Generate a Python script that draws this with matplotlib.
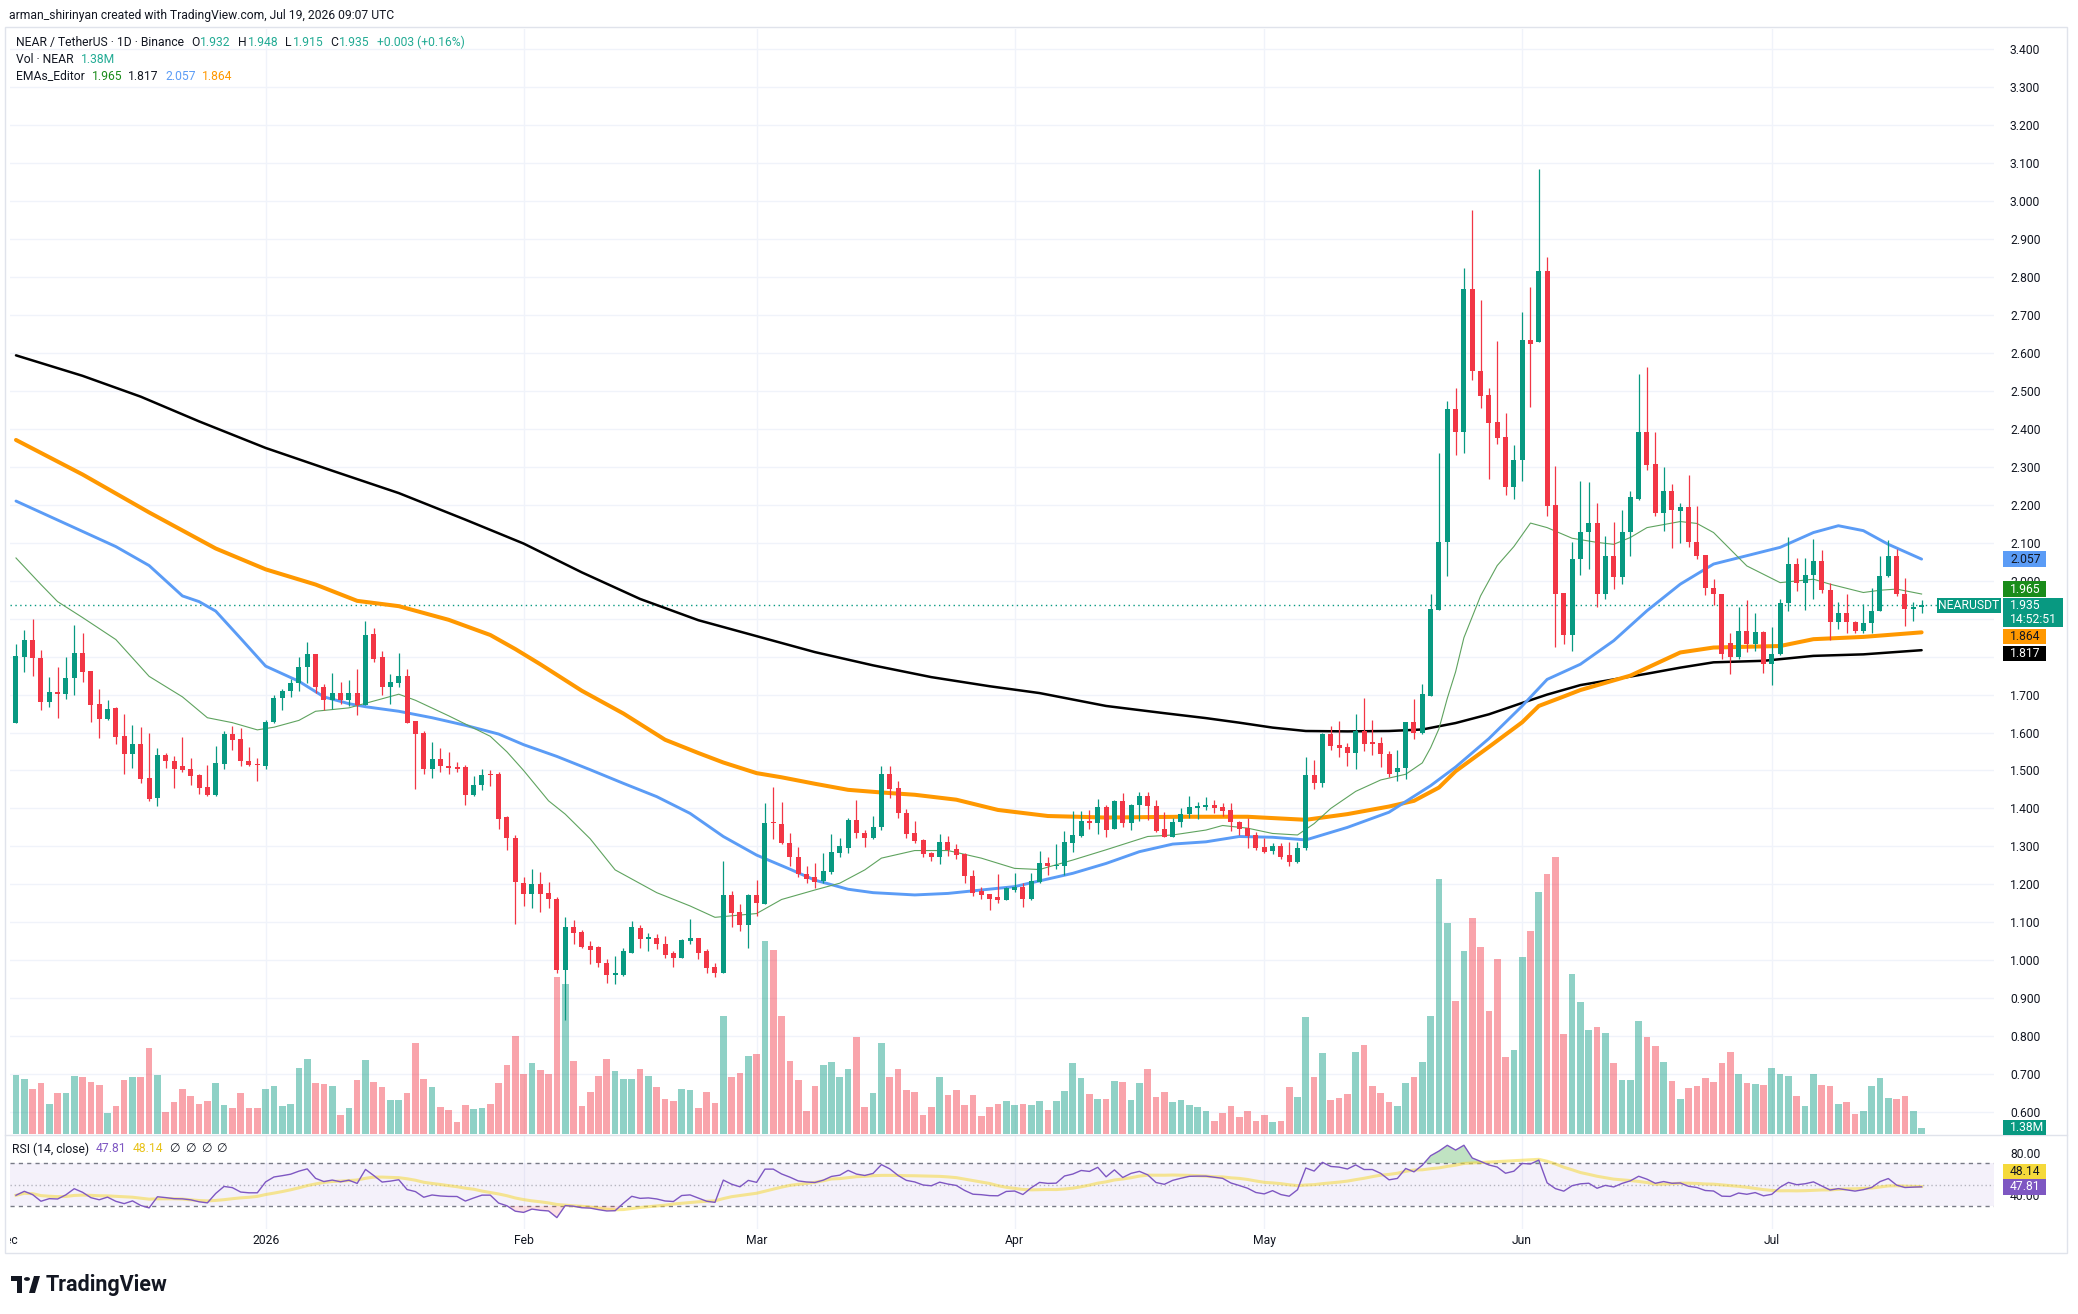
import datetime as dt

import matplotlib
matplotlib.use("Agg")
import matplotlib.pyplot as plt
import matplotlib.dates as mdates
import matplotlib.transforms as mtransforms
from matplotlib.patches import Rectangle, Circle, Polygon
from matplotlib.lines import Line2D
import numpy as np

plt.rcParams['font.family'] = ['Roboto', 'DejaVu Sans']

# ---- NEAR / USDT daily candles (2 Dec 2025 .. 19 Jul 2026) ----
start_date = dt.date(2025, 12, 2)

opens = [
    1.626, 1.800, 1.845, 1.797, 1.680, 1.707, 1.701, 1.743, 1.810, 1.762,
    1.674, 1.635, 1.664, 1.590, 1.543, 1.569, 1.481, 1.427, 1.540, 1.526,
    1.511, 1.505, 1.488, 1.456, 1.436, 1.517, 1.596, 1.582, 1.525, 1.516,
    1.511, 1.628, 1.692, 1.710, 1.730, 1.773, 1.807, 1.721, 1.685, 1.703,
    1.686, 1.703, 1.673, 1.859, 1.800, 1.719, 1.730, 1.750, 1.630, 1.599,
    1.504, 1.529, 1.513, 1.508, 1.508, 1.436, 1.463, 1.490, 1.490, 1.377,
    1.323, 1.204, 1.174, 1.201, 1.176, 1.160, 0.974, 1.087, 1.075, 1.037,
    1.034, 0.993, 0.961, 0.961, 1.020, 1.084, 1.056, 1.058, 1.044, 1.020,
    1.007, 1.051, 1.058, 1.024, 0.982, 0.965, 1.172, 1.128, 1.094, 1.172,
    1.148, 1.363, 1.358, 1.310, 1.271, 1.226, 1.218, 1.209, 1.233, 1.282,
    1.297, 1.370, 1.335, 1.323, 1.350, 1.490, 1.453, 1.387, 1.335, 1.317,
    1.282, 1.273, 1.311, 1.292, 1.280, 1.223, 1.183, 1.174, 1.167, 1.159,
    1.185, 1.194, 1.161, 1.207, 1.257, 1.247, 1.247, 1.308, 1.328, 1.367,
    1.361, 1.405, 1.346, 1.420, 1.361, 1.409, 1.434, 1.407, 1.346, 1.326,
    1.363, 1.385, 1.400, 1.405, 1.409, 1.405, 1.396, 1.365, 1.348, 1.330,
    1.299, 1.288, 1.302, 1.277, 1.260, 1.295, 1.487, 1.466, 1.597, 1.568,
    1.562, 1.546, 1.605, 1.575, 1.573, 1.543, 1.496, 1.506, 1.627, 1.600,
    1.697, 1.923, 2.102, 2.453, 2.392, 2.770, 2.552, 2.489, 2.419, 2.380,
    2.248, 2.318, 2.635, 2.629, 2.817, 2.200, 1.969, 1.857, 2.057, 2.129,
    2.152, 1.966, 2.066, 2.009, 2.129, 2.215, 2.393, 2.307, 2.178, 2.237,
    2.185, 2.195, 2.103, 2.068, 1.982, 1.966, 1.835, 1.800, 1.868, 1.833,
    1.865, 1.780, 1.807, 1.941, 2.044, 1.995, 2.015, 2.053, 1.975, 1.892,
    1.916, 1.892, 1.868, 1.889, 1.921, 2.013, 2.066, 1.965, 1.925, 1.932,
]
highs = [
    1.834, 1.870, 1.900, 1.818, 1.746, 1.773, 1.800, 1.884, 1.863, 1.762,
    1.716, 1.685, 1.668, 1.648, 1.619, 1.615, 1.600, 1.560, 1.546, 1.537,
    1.587, 1.533, 1.492, 1.514, 1.564, 1.605, 1.617, 1.612, 1.562, 1.533,
    1.633, 1.698, 1.716, 1.742, 1.800, 1.838, 1.807, 1.728, 1.757, 1.732,
    1.739, 1.768, 1.895, 1.876, 1.814, 1.754, 1.810, 1.768, 1.630, 1.603,
    1.574, 1.558, 1.549, 1.522, 1.515, 1.486, 1.504, 1.501, 1.497, 1.381,
    1.329, 1.218, 1.240, 1.232, 1.205, 1.167, 1.113, 1.106, 1.080, 1.050,
    1.038, 1.002, 1.011, 1.033, 1.103, 1.093, 1.073, 1.068, 1.064, 1.025,
    1.055, 1.109, 1.058, 1.029, 0.992, 1.262, 1.183, 1.147, 1.174, 1.211,
    1.414, 1.456, 1.416, 1.335, 1.299, 1.247, 1.255, 1.282, 1.332, 1.323,
    1.374, 1.423, 1.343, 1.380, 1.512, 1.512, 1.471, 1.398, 1.367, 1.319,
    1.286, 1.332, 1.328, 1.306, 1.282, 1.238, 1.194, 1.174, 1.226, 1.194,
    1.229, 1.204, 1.229, 1.288, 1.273, 1.305, 1.341, 1.393, 1.393, 1.396,
    1.425, 1.409, 1.422, 1.440, 1.411, 1.443, 1.443, 1.421, 1.390, 1.376,
    1.402, 1.433, 1.416, 1.431, 1.422, 1.414, 1.414, 1.368, 1.374, 1.339,
    1.321, 1.308, 1.308, 1.311, 1.312, 1.535, 1.527, 1.600, 1.616, 1.630,
    1.573, 1.648, 1.691, 1.634, 1.589, 1.552, 1.555, 1.627, 1.688, 1.729,
    1.966, 2.337, 2.474, 2.509, 2.823, 2.976, 2.740, 2.509, 2.632, 2.442,
    2.358, 2.708, 2.774, 3.086, 2.853, 2.303, 1.969, 2.101, 2.263, 2.260,
    2.205, 2.118, 2.154, 2.186, 2.237, 2.546, 2.562, 2.391, 2.299, 2.255,
    2.204, 2.278, 2.198, 2.068, 2.004, 1.966, 1.861, 1.930, 1.949, 1.914,
    1.868, 1.879, 1.953, 2.114, 2.059, 2.059, 2.110, 2.081, 1.994, 1.945,
    1.965, 1.895, 1.938, 1.980, 2.064, 2.108, 2.083, 2.007, 1.943, 1.948,
]
lows = [
    1.626, 1.759, 1.748, 1.659, 1.667, 1.639, 1.689, 1.698, 1.734, 1.628,
    1.585, 1.632, 1.570, 1.492, 1.506, 1.467, 1.420, 1.407, 1.506, 1.454,
    1.495, 1.461, 1.438, 1.433, 1.433, 1.504, 1.553, 1.513, 1.513, 1.472,
    1.504, 1.626, 1.659, 1.694, 1.710, 1.730, 1.705, 1.659, 1.662, 1.674,
    1.671, 1.646, 1.673, 1.787, 1.698, 1.676, 1.721, 1.626, 1.451, 1.490,
    1.481, 1.497, 1.492, 1.495, 1.410, 1.433, 1.449, 1.460, 1.347, 1.291,
    1.095, 1.144, 1.138, 1.126, 1.137, 0.965, 0.842, 1.043, 1.031, 0.990,
    0.983, 0.939, 0.936, 0.958, 1.018, 1.031, 1.025, 1.029, 1.007, 0.983,
    1.005, 1.044, 1.003, 0.965, 0.955, 0.965, 1.087, 1.077, 1.031, 1.116,
    1.148, 1.320, 1.306, 1.247, 1.218, 1.204, 1.191, 1.204, 1.226, 1.273,
    1.282, 1.321, 1.299, 1.319, 1.343, 1.427, 1.376, 1.321, 1.310, 1.271,
    1.262, 1.254, 1.275, 1.266, 1.204, 1.169, 1.161, 1.131, 1.150, 1.159,
    1.181, 1.141, 1.159, 1.204, 1.225, 1.240, 1.225, 1.286, 1.324, 1.346,
    1.333, 1.326, 1.346, 1.352, 1.343, 1.368, 1.370, 1.339, 1.324, 1.324,
    1.352, 1.374, 1.372, 1.396, 1.389, 1.380, 1.341, 1.330, 1.295, 1.291,
    1.282, 1.280, 1.268, 1.247, 1.257, 1.291, 1.450, 1.457, 1.554, 1.535,
    1.511, 1.505, 1.552, 1.541, 1.509, 1.482, 1.471, 1.478, 1.584, 1.595,
    1.695, 1.923, 2.012, 2.331, 2.337, 2.528, 2.455, 2.269, 2.361, 2.227,
    2.215, 2.263, 2.457, 2.629, 2.170, 1.826, 1.833, 1.815, 2.015, 2.032,
    1.931, 1.951, 1.978, 1.991, 2.066, 2.212, 2.292, 2.171, 2.132, 2.086,
    2.099, 2.089, 2.057, 1.963, 1.937, 1.793, 1.754, 1.793, 1.813, 1.815,
    1.758, 1.726, 1.803, 1.921, 1.973, 1.922, 1.953, 1.969, 1.843, 1.874,
    1.863, 1.863, 1.862, 1.862, 1.921, 2.009, 1.960, 1.881, 1.894, 1.915,
]
closes = [
    1.802, 1.845, 1.796, 1.680, 1.707, 1.701, 1.743, 1.810, 1.759, 1.673,
    1.635, 1.662, 1.588, 1.543, 1.569, 1.478, 1.424, 1.540, 1.524, 1.505,
    1.502, 1.486, 1.454, 1.436, 1.520, 1.596, 1.581, 1.524, 1.514, 1.514,
    1.628, 1.692, 1.710, 1.730, 1.773, 1.807, 1.719, 1.685, 1.703, 1.686,
    1.703, 1.673, 1.858, 1.795, 1.719, 1.732, 1.750, 1.626, 1.596, 1.504,
    1.529, 1.513, 1.506, 1.505, 1.436, 1.463, 1.488, 1.488, 1.372, 1.323,
    1.205, 1.174, 1.201, 1.174, 1.160, 0.974, 1.087, 1.072, 1.036, 1.028,
    0.992, 0.961, 0.963, 1.024, 1.087, 1.055, 1.059, 1.044, 1.015, 1.007,
    1.053, 1.058, 1.020, 0.980, 0.965, 1.172, 1.125, 1.094, 1.172, 1.150,
    1.361, 1.361, 1.308, 1.271, 1.226, 1.213, 1.207, 1.235, 1.284, 1.301,
    1.370, 1.336, 1.323, 1.350, 1.490, 1.452, 1.387, 1.333, 1.315, 1.280,
    1.271, 1.311, 1.291, 1.277, 1.223, 1.178, 1.172, 1.161, 1.159, 1.191,
    1.194, 1.161, 1.210, 1.255, 1.247, 1.249, 1.311, 1.330, 1.367, 1.361,
    1.405, 1.343, 1.420, 1.361, 1.409, 1.434, 1.407, 1.341, 1.324, 1.363,
    1.385, 1.405, 1.407, 1.407, 1.400, 1.393, 1.363, 1.346, 1.327, 1.295,
    1.284, 1.302, 1.273, 1.260, 1.295, 1.488, 1.466, 1.597, 1.565, 1.560,
    1.546, 1.605, 1.571, 1.571, 1.543, 1.492, 1.506, 1.627, 1.600, 1.702,
    1.926, 2.102, 2.453, 2.392, 2.770, 2.552, 2.487, 2.417, 2.376, 2.248,
    2.318, 2.635, 2.625, 2.817, 2.197, 1.966, 1.857, 2.057, 2.129, 2.152,
    1.966, 2.066, 2.009, 2.129, 2.220, 2.393, 2.306, 2.178, 2.237, 2.186,
    2.195, 2.101, 2.066, 1.980, 1.965, 1.808, 1.800, 1.868, 1.833, 1.865,
    1.780, 1.807, 1.941, 2.044, 1.995, 2.015, 2.053, 1.975, 1.892, 1.916,
    1.892, 1.868, 1.889, 1.921, 2.013, 2.066, 1.965, 1.925, 1.931, 1.935,
]
# volume in millions of NEAR
volume = [
    14.2, 13.2, 10.8, 12.3, 7.3, 10.0, 9.8, 14.0, 13.7, 12.5,
    11.8, 5.0, 6.7, 13.1, 13.7, 13.7, 20.9, 14.2, 5.3, 7.7,
    10.8, 9.2, 7.3, 7.9, 12.3, 7.0, 6.3, 9.8, 6.3, 6.3,
    11.0, 11.5, 6.7, 7.3, 16.0, 18.1, 12.3, 12.0, 11.5, 4.5,
    6.3, 13.1, 17.8, 12.5, 11.3, 8.2, 8.2, 9.8, 21.9, 13.3,
    11.3, 6.5, 5.7, 2.8, 7.1, 6.0, 6.3, 7.2, 12.3, 16.7,
    23.8, 14.5, 17.2, 15.6, 14.4, 38.0, 36.3, 17.7, 6.7, 10.1,
    14.1, 18.2, 15.3, 13.4, 13.4, 15.8, 14.1, 11.3, 8.5, 8.1,
    11.0, 10.6, 6.2, 10.1, 7.5, 28.5, 13.7, 14.8, 18.8, 19.4,
    46.6, 44.4, 28.5, 17.6, 13.1, 5.6, 11.7, 16.8, 17.4, 13.7,
    15.8, 23.4, 6.5, 9.8, 22.0, 13.7, 15.8, 10.7, 10.1, 4.7,
    6.5, 13.8, 9.5, 10.6, 7.1, 9.4, 4.3, 6.6, 7.3, 8.1,
    6.9, 7.3, 7.1, 8.1, 5.9, 8.0, 10.4, 17.1, 13.6, 9.6,
    8.5, 8.5, 12.8, 12.5, 8.2, 12.3, 15.7, 9.0, 10.1, 7.7,
    8.2, 7.0, 6.5, 5.6, 3.1, 5.2, 6.8, 4.2, 5.6, 3.1,
    4.6, 3.0, 3.1, 11.3, 9.0, 28.2, 13.8, 19.6, 8.3, 8.7,
    9.7, 19.8, 21.5, 11.5, 9.9, 7.7, 6.8, 12.3, 13.8, 17.4,
    28.5, 61.6, 51.0, 32.1, 44.2, 52.3, 45.2, 29.7, 42.3, 18.7,
    20.3, 42.8, 49.1, 58.6, 62.9, 67.1, 24.2, 38.6, 31.9, 25.2,
    25.8, 24.4, 17.2, 13.1, 13.1, 27.3, 23.5, 21.3, 17.4, 12.8,
    8.5, 11.1, 11.6, 13.5, 12.6, 17.2, 19.8, 14.5, 12.3, 12.1,
    11.9, 16.0, 14.5, 14.0, 9.2, 6.8, 14.5, 11.9, 11.6, 7.3,
    7.7, 4.8, 5.6, 11.6, 13.5, 8.7, 8.5, 9.2, 5.6, 1.38,
]

# moving-average lines, read at sample candles (candle index, value)
ema20_idx = [0, 3, 5, 8, 12, 16, 20, 23, 26, 29, 31, 34, 36, 40, 44, 46, 48, 52, 57, 59,
             61, 64, 66, 69, 72, 77, 81, 84, 89, 92, 96, 99, 102, 104, 108, 112, 116, 120, 123, 127,
             131, 136, 139, 143, 145, 148, 151, 154, 156, 158, 161, 164, 167, 169, 170, 171, 172, 173, 174, 176,
             178, 180, 182, 184, 187, 190, 192, 194, 196, 200, 202, 204, 206, 208, 212, 216, 218, 222, 224, 226,
             229]
ema20_val = [2.06, 1.99, 1.945, 1.903, 1.845, 1.748, 1.694, 1.639, 1.626, 1.607,
             1.614, 1.632, 1.656, 1.665, 1.689, 1.701, 1.685, 1.644, 1.590, 1.549,
             1.50, 1.42, 1.385, 1.32, 1.238, 1.178, 1.143, 1.113, 1.123, 1.160,
             1.185, 1.203, 1.238, 1.269, 1.289, 1.289, 1.269, 1.242, 1.239, 1.264,
             1.291, 1.326, 1.330, 1.343, 1.355, 1.348, 1.334, 1.330, 1.36, 1.40,
             1.445, 1.475, 1.49, 1.52, 1.56, 1.61, 1.69, 1.76, 1.85, 1.96,
             2.04, 2.09, 2.152, 2.14, 2.112, 2.101, 2.096, 2.114, 2.140, 2.156,
             2.151, 2.127, 2.083, 2.039, 1.995, 2.004, 1.991, 1.969, 1.975, 1.978,
             1.965]
ema50_idx = [0, 4, 8, 12, 16, 20, 22, 24, 27, 30, 34, 37, 40, 42, 46, 50, 54, 58, 61, 65,
             69, 73, 77, 81, 85, 89, 93, 96, 100, 103, 108, 112, 116, 120, 124, 127, 131, 135, 139, 143,
             147, 151, 155, 160, 165, 170, 173, 177, 181, 184, 188, 192, 196, 200, 204, 208, 212, 216, 219, 222,
             225, 229]
ema50_val = [2.21, 2.17, 2.13, 2.09, 2.04, 1.96, 1.945, 1.92, 1.848, 1.775,
             1.735, 1.694, 1.676, 1.668, 1.656, 1.639, 1.619, 1.596, 1.568, 1.537,
             1.502, 1.466, 1.431, 1.387, 1.326, 1.277, 1.24, 1.211, 1.187, 1.178,
             1.172, 1.176, 1.185, 1.194, 1.214, 1.229, 1.255, 1.286, 1.306, 1.312,
             1.326, 1.324, 1.317, 1.35, 1.39, 1.46, 1.509, 1.584, 1.670, 1.74,
             1.780, 1.842, 1.921, 1.991, 2.044, 2.066, 2.088, 2.127, 2.145, 2.132,
             2.096, 2.057]
ema100_idx = [0, 8, 16, 24, 30, 36, 41, 46, 52, 57, 60, 63, 68, 73, 78, 82, 85, 89, 92, 96,
              100, 104, 108, 113, 118, 124, 131, 140, 148, 155, 160, 165, 168, 171, 173, 177, 181, 183, 186, 188,
              194, 200, 204, 212, 216, 222, 229]
ema100_val = [2.371, 2.28, 2.18, 2.085, 2.03, 1.99, 1.947, 1.933, 1.897, 1.857,
              1.82, 1.78, 1.71, 1.65, 1.581, 1.546, 1.521, 1.493, 1.482, 1.465,
              1.449, 1.442, 1.436, 1.423, 1.396, 1.380, 1.376, 1.378, 1.378, 1.370,
              1.385, 1.405, 1.42, 1.455, 1.498, 1.562, 1.627, 1.670, 1.695, 1.712,
              1.75, 1.811, 1.824, 1.828, 1.846, 1.852, 1.864]
ema200_idx = [0, 8, 15, 22, 30, 38, 46, 54, 61, 68, 75, 82, 89, 96, 103, 110, 117, 123, 131, 138,
              143, 147, 151, 155, 160, 165, 169, 173, 177, 181, 184, 188, 192, 196, 200, 204, 210, 216, 222, 229]
ema200_val = [2.594, 2.54, 2.485, 2.42, 2.35, 2.29, 2.231, 2.161, 2.098, 2.022,
              1.952, 1.896, 1.854, 1.812, 1.777, 1.746, 1.722, 1.704, 1.670, 1.651,
              1.638, 1.626, 1.613, 1.604, 1.603, 1.604, 1.608, 1.625, 1.648, 1.678,
              1.70, 1.725, 1.74, 1.755, 1.771, 1.785, 1.789, 1.802, 1.806, 1.817]

# RSI(14) Wilder averages carried in from before the first visible candle
rsi_seed_gain, rsi_seed_loss = 0.020, 0.030

month_ticks = [dt.date(2026, m, 1) for m in range(1, 8)]
month_labels = ['2026', 'Feb', 'Mar', 'Apr', 'May', 'Jun', 'Jul']
price_ticks = [round(0.6 + 0.1 * k, 1) for k in range(29)]
# scale labels that sit fully under the value boxes on the right
hidden_ticks = [1.8, 1.9]

header = "arman_shirinyan created with TradingView.com, Jul 19, 2026 09:07 UTC"

# ---- colours ----
UP, DOWN = '#089981', '#F23645'
TEAL_TXT = '#22AB94'
DARK = '#131722'
GRID = '#f0f3fa'
C20, C50, C100, C200 = '#5fa35f', '#5B9CF6', '#FF9800', '#000000'
RSI_C, RSI_MA_C = '#7E57C2', '#F5D93B'
FS = 8.7

W, H = 2078, 1314


def fx(px):
    return px / W


def fy(py):
    return 1 - py / H


fig = plt.figure(figsize=(W / 100, H / 100), dpi=100)
fig.patch.set_facecolor('white')

main_rect = [fx(10), fy(1134), (1994 - 10) / W, (1134 - 29) / H]
rsi_rect = [fx(10), fy(1229), (1994 - 10) / W, (1229 - 1135) / H]

axv = fig.add_axes(main_rect, label='volume')
ax = fig.add_axes(main_rect, label='price')
axr = fig.add_axes(rsi_rect, label='rsi')
ax.patch.set_visible(False)

x0 = mdates.date2num(start_date)
x = x0 + np.arange(len(closes))
xlim = (x0 - 0.72, x0 + 237.7)
for a in (ax, axv, axr):
    a.set_xlim(*xlim)
    a.set_xticks([])
    for s in a.spines.values():
        s.set_visible(False)

ax.set_ylim(0.542, 3.454)
axv.set_ylim(0, 267.3)
axv.set_yticks([])
axr.set_ylim(8.4, 96.5)

# grid (drawn on the bottom axes so it stays behind the volume bars)
grid_tr = mtransforms.blended_transform_factory(axv.transAxes, ax.transData)
for p in price_ticks:
    axv.plot([0, 1], [p, p], color=GRID, lw=1, transform=grid_tr, zorder=0)
mt = mdates.date2num(month_ticks)
for m in mt:
    axv.axvline(m, color=GRID, lw=1, zorder=0)
    axr.axvline(m, color=GRID, lw=1, zorder=0)

# volume
o, h, l, c = (np.array(a) for a in (opens, highs, lows, closes))
up = c >= o
colors = np.where(up, UP, DOWN)
axv.bar(x, volume, width=0.8, color=colors, alpha=0.45, linewidth=0, zorder=1)

# moving averages
ax.plot(x[ema200_idx], ema200_val, color=C200, lw=1.8, zorder=3, solid_capstyle='round')
ax.plot(x[ema100_idx], ema100_val, color=C100, lw=2.9, zorder=3, solid_capstyle='round')
ax.plot(x[ema50_idx], ema50_val, color=C50, lw=2.1, zorder=3, solid_capstyle='round')
ax.plot(x[ema20_idx], ema20_val, color=C20, lw=0.8, zorder=3)

# candles
ax.vlines(x, l, h, colors=colors, lw=0.9, zorder=4)
ax.bar(x, np.maximum(np.abs(c - o), 0.004), bottom=np.minimum(o, c), width=0.6,
       color=colors, linewidth=0, zorder=5)

# last price line
ax.axhline(closes[-1], color=UP, lw=1, ls=(0, (1, 2.5)), zorder=2)

# right price scale
ax.yaxis.tick_right()
ax.set_yticks(price_ticks)
ax.set_yticklabels(['' if p in hidden_ticks else f'{p:.3f}' for p in price_ticks])
ax.tick_params(axis='y', length=0, pad=11.5, labelsize=FS, labelcolor=DARK)

# ---- RSI pane ----
closes_arr = np.array(closes)
avg_gain, avg_loss = rsi_seed_gain, rsi_seed_loss
rsi = [100 - 100 / (1 + avg_gain / avg_loss)]
for d in np.diff(closes_arr):
    avg_gain = (avg_gain * 13 + max(d, 0)) / 14
    avg_loss = (avg_loss * 13 + max(-d, 0)) / 14
    rsi.append(100 - 100 / (1 + avg_gain / avg_loss))
rsi = np.array(rsi)
rsi_ma = np.array([rsi[max(0, k - 13):k + 1].mean() for k in range(len(rsi))])

axr.axhspan(30, 70, color=RSI_C, alpha=0.08, lw=0, zorder=0)
axr.axhline(70, color='#787B86', lw=1, ls=(0, (3, 3)), zorder=1)
axr.axhline(30, color='#787B86', lw=1, ls=(0, (3, 3)), zorder=1)
axr.axhline(50, color='#787B86', lw=1, ls=(0, (1, 2)), alpha=0.5, zorder=1)
axr.fill_between(x, rsi, 70, where=rsi > 70, interpolate=True, color='#4CAF50', alpha=0.35, lw=0, zorder=2)
axr.fill_between(x, rsi, 30, where=rsi < 30, interpolate=True, color=DOWN, alpha=0.15, lw=0, zorder=2)
axr.plot(x, rsi_ma, color=RSI_MA_C, lw=2.2, alpha=0.55, zorder=3)
axr.plot(x, rsi, color=RSI_C, lw=1, zorder=4)

axr.yaxis.tick_right()
axr.set_yticks([40, 80])
axr.set_yticklabels(['40.00', '80.00'])
axr.tick_params(axis='y', length=0, pad=11.5, labelsize=FS, labelcolor=DARK)

# ---- price-scale tags (value boxes, nudged apart like the platform does) ----
ident = mtransforms.IdentityTransform()


def tag(axis, value, text, bg, fg='white', nudge=0.0, left=2003, right=2046, height=15.5,
        text_x=2010, ha='left'):
    yc = axis.transData.transform((0, value))[1] + nudge
    nlines = text.count('\n') + 1
    hh = height + (nlines - 1) * 14
    top = yc + height / 2
    fig.add_artist(Rectangle((left, top - hh), right - left, hh, transform=ident,
                             fc=bg, ec='none', zorder=20))
    fig.text(text_x, top - hh / 2, text, transform=ident, ha=ha, va='center', fontsize=FS,
             color=fg, linespacing=1.15, zorder=21)


tag(ax, 2.057, '2.057', C50, DARK)
tag(ax, 1.965, '1.965', '#1a8c1a', nudge=5)
tag(ax, 1.935, '1.935\n14:52:51', UP, right=2063)
tag(ax, 1.864, '1.864', C100, DARK, nudge=-4)
tag(ax, 1.817, '1.817', '#000000', nudge=-3.5)
tag(ax, 1.935, 'NEARUSDT', UP, left=1937, right=2001, text_x=1969, ha='center')
tag(axv, volume[-1], '1.38M', UP, nudge=1)
tag(axr, 48.14, '48.14', RSI_MA_C, DARK, nudge=15)
tag(axr, 47.81, '47.81', RSI_C)

# ---- time axis ----
time_tr = mtransforms.blended_transform_factory(ax.transData, fig.transFigure)
for m, lab in zip(mt, month_labels):
    ax.text(m, fy(1240.7), lab, transform=time_tr, ha='center', va='center',
            fontsize=FS, color=DARK, clip_on=False)
dec = fig.text(fx(7.7), fy(1240.7), 'Dec', ha='center', va='center', fontsize=FS, color=DARK)
dec.set_clip_box(mtransforms.TransformedBbox(mtransforms.Bbox([[fx(10), 0], [1, 1]]), fig.transFigure))
dec.set_clip_on(True)

# ---- frame ----
fig.add_artist(Rectangle((fx(5), fy(1253)), fx(2067) - fx(5), fy(27) - fy(1253),
                         transform=fig.transFigure, fill=False, ec='#e0e3eb', lw=1))
fig.add_artist(Line2D([fx(5), fx(2067)], [fy(1135), fy(1135)], transform=fig.transFigure,
                      color='#e0e3eb', lw=1))

# ---- legend texts ----
renderer = fig.canvas.get_renderer()


def text_run(x_px, y_px, parts, size=FS):
    for s, col, gap in parts:
        t = fig.text(fx(x_px), fy(y_px), s, color=col, fontsize=size, ha='left', va='center')
        x_px += t.get_window_extent(renderer=renderer).width + gap


fig.text(fx(9), fy(15), header, fontsize=FS, color=DARK, ha='left', va='center')
text_run(16, 42.7, [("NEAR / TetherUS · 1D · Binance", DARK, 7),
                    ("O", DARK, 1), ("1.932", TEAL_TXT, 7),
                    ("H", DARK, 1), ("1.948", TEAL_TXT, 7),
                    ("L", DARK, 1), ("1.915", TEAL_TXT, 7),
                    ("C", DARK, 1), ("1.935", TEAL_TXT, 7),
                    ("+0.003 (+0.16%)", TEAL_TXT, 0)])
text_run(16, 59.3, [("Vol · NEAR", DARK, 7), ("1.38M", TEAL_TXT, 0)])
text_run(16, 76, [("EMAs_Editor", DARK, 7), ("1.965", '#1a8c1a', 6), ("1.817", DARK, 6),
                  ("2.057", C50, 6), ("1.864", C100, 0)])
text_run(12, 1149, [("RSI (14, close)", DARK, 7), ("47.81", RSI_C, 6), ("48.14", '#E8C21A', 6),
                    ("∅", DARK, 5), ("∅", DARK, 5), ("∅", DARK, 5), ("∅", DARK, 0)])

# ---- TradingView logo ----
fig.add_artist(Rectangle((fx(10.6), fy(1281)), fx(22) - fx(10.6), fy(1276) - fy(1281),
                         transform=fig.transFigure, color=DARK, lw=0))
fig.add_artist(Rectangle((fx(17), fy(1293)), fx(22) - fx(17), fy(1276) - fy(1293),
                         transform=fig.transFigure, color=DARK, lw=0))
fig.add_artist(Circle((fx(27), fy(1279)), 3 / W, transform=fig.transFigure, color=DARK, lw=0))
fig.add_artist(Polygon([(fx(29), fy(1293)), (fx(34), fy(1276)), (fx(40), fy(1276)), (fx(35), fy(1293))],
                       closed=True, transform=fig.transFigure, color=DARK, lw=0))
fig.text(fx(46), fy(1285), 'TradingView', fontsize=15.5, fontweight='bold', color=DARK,
         ha='left', va='center')

fig.savefig('out.png', dpi=100, facecolor='white')
